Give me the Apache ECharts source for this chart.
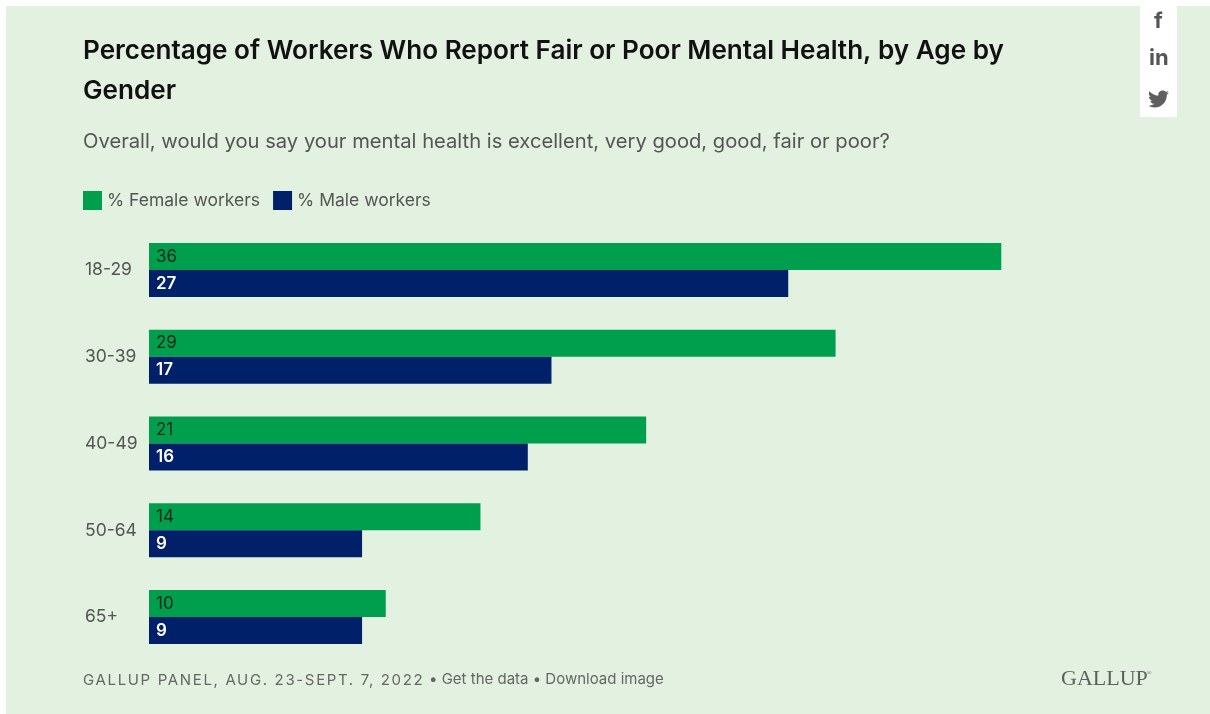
<!DOCTYPE html>
<html>
<head>
<meta charset="utf-8">
<style>
  html, body { margin: 0; padding: 0; background: #fff; }
  #wrap { position: relative; width: 1210px; height: 714px; overflow: hidden; }
  #chart { width: 1210px; height: 714px; }
  #source {
    position: absolute; left: 83px; top: 670px; white-space: nowrap;
    font: 400 15px/20px Inter, sans-serif; letter-spacing: 1.65px; color: #666;
  }
</style>
<script src="https://cdn.jsdelivr.net/npm/echarts@6/dist/echarts.min.js"></script>
</head>
<body>
<div id="wrap">
  <div id="chart"></div>
  <div id="source"></div>
</div>
<script>
const ageGroups = ['18-29', '30-39', '40-49', '50-64', '65+'];
const femaleWorkers = [36, 29, 21, 14, 10];
const maleWorkers = [27, 17, 16, 9, 9];
const seriesNames = ['% Female workers', '% Male workers'];
const titleText = 'Percentage of Workers Who Report Fair or Poor Mental Health, by Age by\nGender';
const subtitleText = 'Overall, would you say your mental health is excellent, very good, good, fair or poor?';
const sourceText = 'GALLUP PANEL, AUG. 23-SEPT. 7, 2022';
const linkText = '• Get the data • Download image';

const FONT = 'Inter, sans-serif';
const GREEN = '#009f4d';
const NAVY = '#002169';
const PANEL = '#e3f1e0';
const INK = '#555555';
const TWITTER = 'M24 4.6c-.9.4-1.8.7-2.8.8 1-.6 1.8-1.6 2.2-2.7-1 .6-2 1-3.1 1.2C19.3 2.9 18 2.3 16.6 2.3c-2.7 0-4.9 2.2-4.9 4.9 0 .4 0 .8.1 1.1C7.7 8.1 4.1 6.1 1.7 3.2c-.4.7-.7 1.6-.7 2.5 0 1.7.9 3.2 2.2 4.1-.8 0-1.6-.2-2.2-.6v.1c0 2.4 1.7 4.4 3.9 4.8-.4.1-.8.2-1.3.2-.3 0-.6 0-.9-.1.6 2 2.4 3.4 4.6 3.4-1.7 1.3-3.8 2.1-6.1 2.1-.4 0-.8 0-1.2-.1 2.2 1.4 4.8 2.2 7.5 2.2 9.1 0 14-7.5 14-14v-.6c1-.7 1.8-1.6 2.5-2.6z';

document.getElementById('source').textContent = sourceText;

const chart = echarts.init(document.getElementById('chart'), null, { renderer: 'canvas' });

function valueLabel(color, weight) {
  return {
    show: true,
    position: 'insideLeft',
    distance: 7,
    color: color,
    fontFamily: FONT,
    fontSize: 17,
    fontWeight: weight
  };
}

chart.setOption({
  animation: false,
  backgroundColor: '#ffffff',
  textStyle: { fontFamily: FONT },
  legend: {
    left: 83,
    top: 191,
    padding: 0,
    itemWidth: 19,
    itemHeight: 19,
    itemGap: 13,
    icon: 'rect',
    selectedMode: false,
    data: seriesNames,
    textStyle: { color: INK, fontFamily: FONT, fontSize: 17.5 }
  },
  grid: { left: 149, top: 226.5, width: 947, height: 434 },
  xAxis: { type: 'value', min: 0, max: 40, show: false },
  yAxis: {
    type: 'category',
    inverse: true,
    data: ageGroups,
    axisLine: { show: false },
    axisTick: { show: false },
    axisLabel: {
      margin: 64,
      align: 'left',
      color: INK,
      fontFamily: FONT,
      fontSize: 17.5,
      padding: [0, 0, 2, 0]
    }
  },
  series: [
    {
      name: seriesNames[0],
      type: 'bar',
      data: femaleWorkers,
      barWidth: 27,
      barGap: 0,
      itemStyle: { color: GREEN },
      label: valueLabel('#0b2a1a', 400)
    },
    {
      name: seriesNames[1],
      type: 'bar',
      data: maleWorkers,
      barWidth: 27,
      itemStyle: { color: NAVY },
      label: valueLabel('#ffffff', 600)
    },
    {
      // Share-bar bird glyph; the graphic component has no free-form path type.
      type: 'custom',
      coordinateSystem: 'none',
      silent: true,
      data: [0],
      renderItem: function () {
        return {
          type: 'path',
          shape: { pathData: TWITTER, x: 1148, y: 90, width: 21, height: 18 },
          style: { fill: '#5f5f5f' }
        };
      }
    }
  ],
  graphic: [
    { type: 'rect', z: -10, silent: true, shape: { x: 6, y: 6, width: 1204, height: 708 }, style: { fill: PANEL } },
    { type: 'rect', z: -9, silent: true, shape: { x: 1140, y: 0, width: 37, height: 117 }, style: { fill: '#ffffff' } },
    { type: 'text', x: 83, y: 31, style: { text: titleText, fill: '#111111', font: '600 26.1px ' + FONT, lineHeight: 40 } },
    { type: 'text', x: 83, y: 132, style: { text: subtitleText, fill: INK, font: '400 20.2px ' + FONT } },
    { type: 'text', x: 429, y: 672, style: { text: linkText, fill: '#666666', font: '400 15px ' + FONT } },
    { type: 'text', x: 1061, y: 668, style: { text: 'GALLUP', fill: '#5f5f5f', font: '400 22px "Liberation Serif", serif' } },
    { type: 'text', x: 1147, y: 670, style: { text: '®', fill: '#5f5f5f', font: '400 6px "Liberation Serif", serif' } },
    { type: 'text', x: 1154, y: 10, style: { text: 'f', fill: INK, font: '700 22px ' + FONT } },
    { type: 'text', x: 1149, y: 47, style: { text: 'in', fill: INK, font: '700 22px ' + FONT } }
  ]
});
</script>
</body>
</html>
